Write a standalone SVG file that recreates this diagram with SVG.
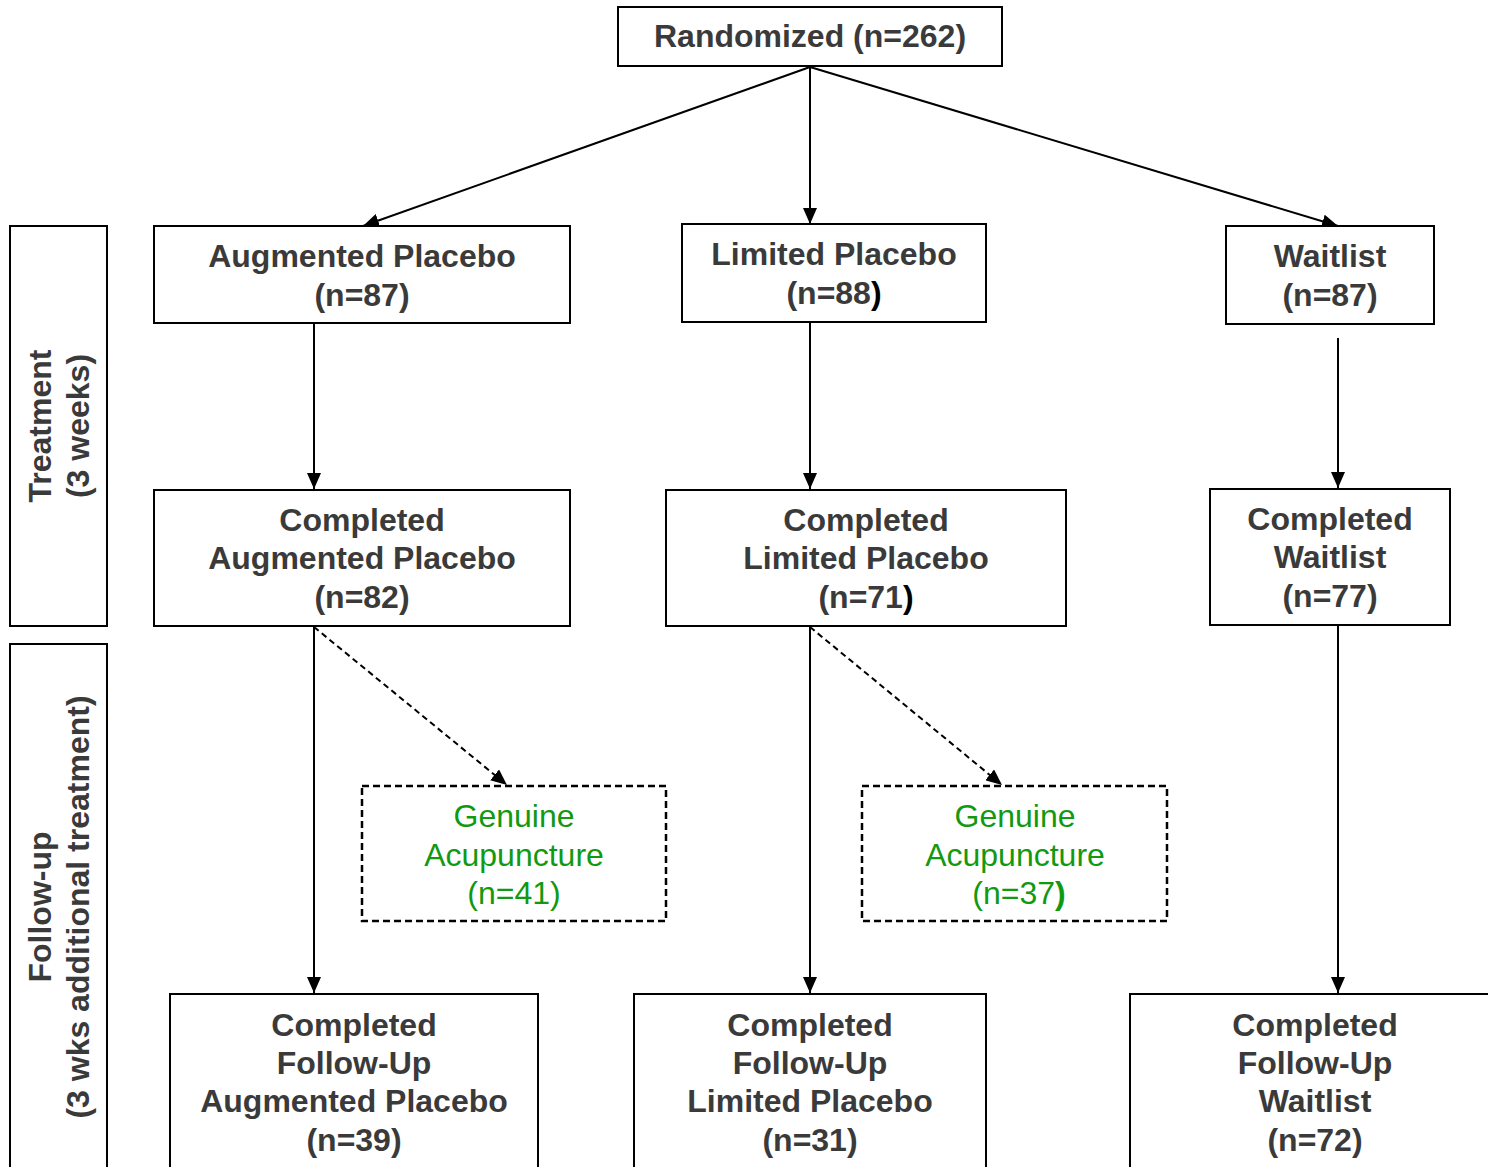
<svg xmlns="http://www.w3.org/2000/svg" width="1488" height="1167" viewBox="0 0 1488 1167">
<defs>
<style>
.box{fill:#fff;stroke:#000;stroke-width:2}
.dbox{fill:#fff;stroke:#000;stroke-width:2.5;stroke-dasharray:7 4}
.t{font-family:"Liberation Sans",Arial,sans-serif;font-size:32px;font-weight:bold;fill:#3a3a3a;text-anchor:middle}
.g{font-family:"Liberation Sans",Arial,sans-serif;font-size:32px;fill:#119911;text-anchor:middle}
.ln{stroke:#000;stroke-width:2;fill:none;marker-end:url(#ah)}
.dl{stroke:#000;stroke-width:2;fill:none;stroke-dasharray:6 4;marker-end:url(#ah)}
.k{fill:#000}
</style>
<marker id="ah" viewBox="0 0 16 14" refX="16" refY="7" markerWidth="16" markerHeight="14" markerUnits="userSpaceOnUse" orient="auto">
<path d="M0,0 L16,7 L0,14 Z" fill="#000"/>
</marker>
</defs>
<rect width="1488" height="1167" fill="#fff"/>

<g id="connectors">
<line class="ln" x1="810" y1="67" x2="363" y2="226"/>
<line class="ln" x1="810" y1="67" x2="810" y2="224"/>
<line class="ln" x1="810" y1="67" x2="1338" y2="226"/>
<line class="ln" x1="314" y1="324" x2="314" y2="489"/>
<line class="ln" x1="810" y1="322" x2="810" y2="489"/>
<line class="ln" x1="1338" y1="338" x2="1338" y2="488"/>
<line class="ln" x1="314" y1="626" x2="314" y2="993"/>
<line class="ln" x1="810" y1="626" x2="810" y2="993"/>
<line class="ln" x1="1338" y1="625" x2="1338" y2="993"/>
<line class="dl" x1="314" y1="627" x2="507" y2="785"/>
<line class="dl" x1="810" y1="627" x2="1002" y2="785"/>
</g>

<g id="phase-treatment">
<rect class="box" x="10" y="226" width="97" height="400"/>
<text class="t" transform="translate(51,426) rotate(-90)">Treatment</text>
<text class="t" transform="translate(89,426) rotate(-90)">(3 weeks)</text>
</g>
<g id="phase-followup">
<rect class="box" x="10" y="644" width="97" height="540"/>
<text class="t" transform="translate(51,907) rotate(-90)">Follow-up</text>
<text class="t" transform="translate(89,907) rotate(-90)">(3 wks additional treatment)</text>
</g>

<g id="randomized">
<rect class="box" x="618" y="7" width="384" height="59"/>
<text class="t" x="810" y="47">Randomized (n=262)</text>
</g>

<g id="augmented">
<rect class="box" x="154" y="226" width="416" height="97"/>
<text class="t" x="362" y="267">Augmented Placebo</text>
<text class="t" x="362" y="306">(n=87)</text>
</g>
<g id="limited">
<rect class="box" x="682" y="224" width="304" height="98"/>
<text class="t" x="834" y="265">Limited Placebo</text>
<text class="t" x="834" y="304">(n=88<tspan class="k">)</tspan></text>
</g>
<g id="waitlist">
<rect class="box" x="1226" y="226" width="208" height="98"/>
<text class="t" x="1330" y="267">Waitlist</text>
<text class="t" x="1330" y="306">(n=87)</text>
</g>

<g id="completed-augmented">
<rect class="box" x="154" y="490" width="416" height="136"/>
<text class="t" x="362" y="531">Completed</text>
<text class="t" x="362" y="569">Augmented Placebo</text>
<text class="t" x="362" y="608">(n=82)</text>
</g>
<g id="completed-limited">
<rect class="box" x="666" y="490" width="400" height="136"/>
<text class="t" x="866" y="531">Completed</text>
<text class="t" x="866" y="569">Limited Placebo</text>
<text class="t" x="866" y="608">(n=71<tspan class="k">)</tspan></text>
</g>
<g id="completed-waitlist">
<rect class="box" x="1210" y="489" width="240" height="136"/>
<text class="t" x="1330" y="530">Completed</text>
<text class="t" x="1330" y="568">Waitlist</text>
<text class="t" x="1330" y="607">(n=77)</text>
</g>

<g id="genuine-1">
<rect class="dbox" x="362" y="786" width="304" height="135"/>
<text class="g" x="514" y="827">Genuine</text>
<text class="g" x="514" y="866">Acupuncture</text>
<text class="g" x="514" y="904">(n=41)</text>
</g>
<g id="genuine-2">
<rect class="dbox" x="862" y="786" width="305" height="135"/>
<text class="g" x="1015" y="827">Genuine</text>
<text class="g" x="1015" y="866">Acupuncture</text>
<text class="g" x="1019" y="904">(n=37<tspan font-weight="bold">)</tspan></text>
</g>

<g id="followup-augmented">
<rect class="box" x="170" y="994" width="368" height="190"/>
<text class="t" x="354" y="1036">Completed</text>
<text class="t" x="354" y="1074">Follow-Up</text>
<text class="t" x="354" y="1112">Augmented Placebo</text>
<text class="t" x="354" y="1151">(n=39)</text>
</g>
<g id="followup-limited">
<rect class="box" x="634" y="994" width="352" height="190"/>
<text class="t" x="810" y="1036">Completed</text>
<text class="t" x="810" y="1074">Follow-Up</text>
<text class="t" x="810" y="1112">Limited Placebo</text>
<text class="t" x="810" y="1151">(n=31)</text>
</g>
<g id="followup-waitlist">
<rect class="box" x="1130" y="994" width="370" height="190"/>
<text class="t" x="1315" y="1036">Completed</text>
<text class="t" x="1315" y="1074">Follow-Up</text>
<text class="t" x="1315" y="1112">Waitlist</text>
<text class="t" x="1315" y="1151">(n=72)</text>
</g>
</svg>
